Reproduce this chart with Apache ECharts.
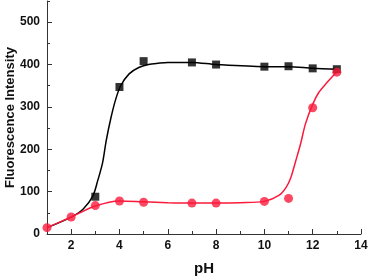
<!DOCTYPE html>
<html><head><meta charset="utf-8">
<script src="https://cdn.jsdelivr.net/npm/echarts@6/dist/echarts.min.js"></script>
<style>html,body{margin:0;padding:0;background:#fff}#c{width:370px;height:277px}</style>
</head><body><div id="c"></div>
<script>
// measured points
const blackPts = [[3,88],[4,347],[5,408],[7,405],[8,400],[10,395],[11,396],[12,391],[13,389]];
const redPts = [[1,15],[2,40],[3,67],[4,78],[5,75],[7,73],[8,73],[10,77],[11,84],[12,298],[13,382]];
// fitted curves
const blackFit = [[1,15],[2,40],[2.5,59],[2.9,90],[3.1,126],[3.3,168],[3.45,220],[3.65,275],[3.85,319],[4.05,350],[4.4,378],[4.8,393],[5.2,400],[5.6,403],[6,405],[7,405],[8,400],[10,395],[11,395],[12,391],[13,389]];
const redFit = [[1,15],[2,40],[3,66],[4,78],[5,76],[6,74],[7,73],[8,73],[9,74],[10,77],[10.6,91],[10.9,110],[11.1,134],[11.3,173],[11.5,213],[11.7,260],[12,306],[12.25,334],[12.6,358],[13,383]];
const xMajor = [2,4,6,8,10,12,14];
const xMinor = [1,3,5,7,9,11,13];
const yMajor = [0,100,200,300,400,500];
const yMinor = [50,150,250,350,450,550];

const axisColor = '#333';
const font = 'Liberation Sans, Arial, sans-serif';
const red = '#fa1a3c';
const chart = echarts.init(document.getElementById('c'), null, {renderer:'canvas'});
const baseX = {type:'value', min:1, max:14, splitLine:{show:false}};
const baseY = {type:'value', min:0, max:550, splitLine:{show:false}};
chart.setOption({
  animation:false,
  grid:{left:47, right:9, top:1, bottom:43, containLabel:false, outerBoundsMode:'none'},
  xAxis:[
    Object.assign({}, baseX, {
      name:'pH', nameLocation:'middle', nameGap:27,
      nameTextStyle:{fontFamily:font, fontWeight:'bold', fontSize:15, color:'#111'},
      axisLine:{show:true, lineStyle:{color:axisColor, width:1}},
      axisTick:{show:true, inside:true, length:5, customValues:xMajor, lineStyle:{color:axisColor}},
      axisLabel:{customValues:xMajor, fontFamily:font, fontWeight:'bold', fontSize:12, color:'#111', margin:6}
    }),
    Object.assign({}, baseX, {
      position:'bottom',
      axisLine:{show:false},
      axisTick:{show:true, inside:true, length:3, customValues:xMinor, lineStyle:{color:axisColor}},
      axisLabel:{show:false}
    })
  ],
  yAxis:[
    Object.assign({}, baseY, {
      name:'Fluorescence Intensity', nameLocation:'middle', nameGap:30, nameMoveOverlap:false,
      nameTextStyle:{fontFamily:font, fontWeight:'bold', fontSize:13, color:'#111'},
      axisLine:{show:true, lineStyle:{color:axisColor, width:1}},
      axisTick:{show:true, inside:true, length:5, customValues:yMajor, lineStyle:{color:axisColor}},
      axisLabel:{customValues:yMajor, fontFamily:font, fontWeight:'bold', fontSize:12, color:'#111', margin:7}
    }),
    Object.assign({}, baseY, {
      position:'left',
      axisLine:{show:false},
      axisTick:{show:true, inside:true, length:3, customValues:yMinor, lineStyle:{color:axisColor}},
      axisLabel:{show:false}
    })
  ],
  series:[
    {type:'line', data:blackFit, smooth:0.3, showSymbol:false, symbol:'none', lineStyle:{color:'#000', width:1.5}, z:2},
    {type:'line', data:redFit, smooth:0.3, showSymbol:false, symbol:'none', lineStyle:{color:red, width:1.5}, z:2},
    {type:'scatter', data:blackPts, symbol:'rect', symbolSize:8, itemStyle:{color:'#000'}, z:3},
    {type:'scatter', data:redPts, symbol:'circle', symbolSize:9, itemStyle:{color:red}, z:4}
  ]
});
</script></body></html>
